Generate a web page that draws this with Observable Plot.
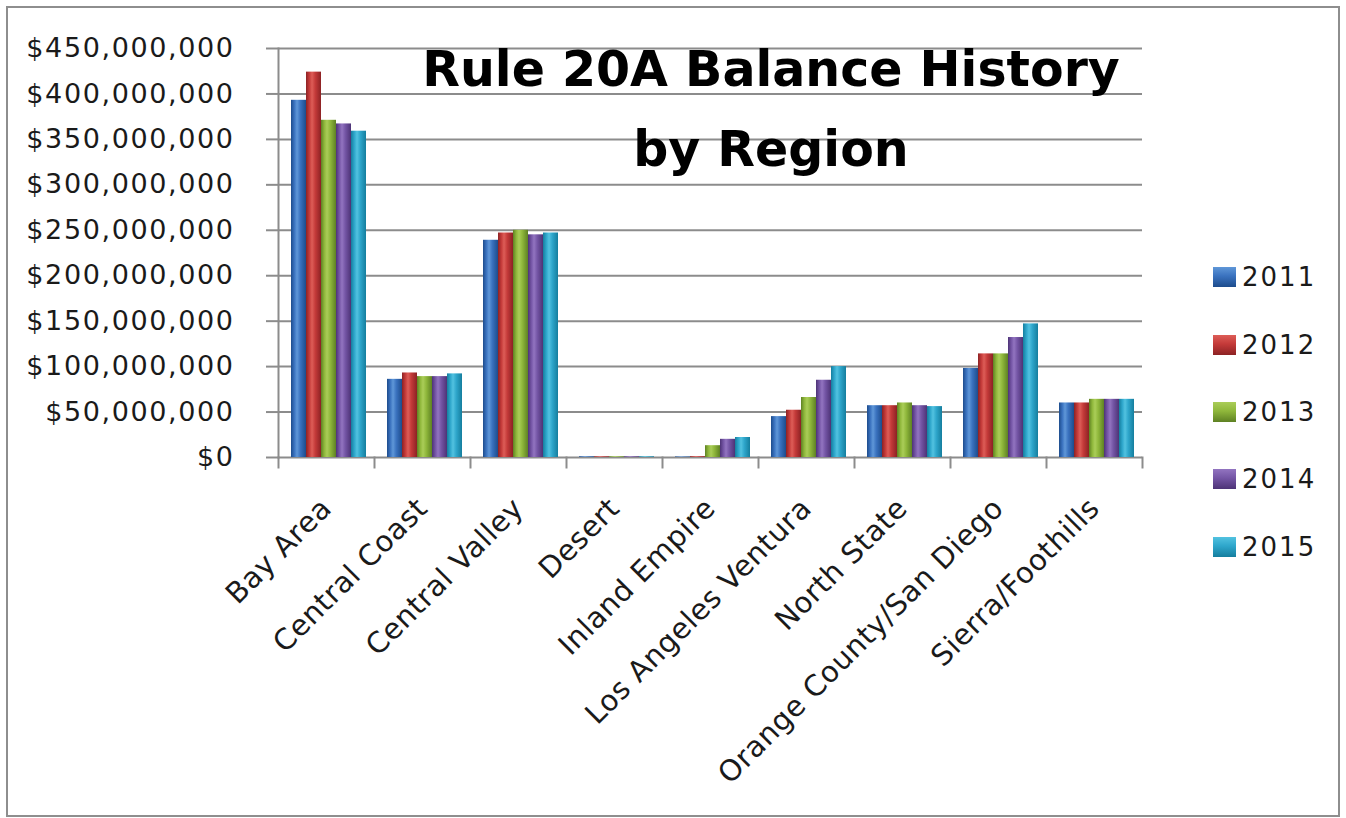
<!DOCTYPE html>
<html>
<head>
<meta charset="utf-8">
<script src="https://cdn.jsdelivr.net/npm/d3@7"></script>
<script src="https://cdn.jsdelivr.net/npm/@observablehq/plot@0.6"></script>
<style>
  html, body { margin: 0; padding: 0; background: #fff; }
  #wrap { position: relative; width: 1346px; height: 818px; overflow: hidden; font-family: "DejaVu Sans", sans-serif; }
  #border { position: absolute; left: 6px; top: 6px; width: 1330px; height: 807px; border: 2px solid #8e8e8e; pointer-events: none; }
  #title { position: absolute; left: 771px; top: 30px; transform: translateX(-50%); white-space: nowrap; text-align: center;
           font-family: "DejaVu Sans", sans-serif; font-weight: bold; font-size: 49px; line-height: 80px; color: #000; }
  #legend { position: absolute; left: 1213px; top: 0; }
  .item { position: absolute; left: 0; height: 30px; display: flex; align-items: center; white-space: nowrap; }
  .sw { width: 23px; height: 20px; margin-right: 6px; }
  .lab { font-size: 26px; color: #1a1a1a; letter-spacing: 2px; }
  #chart { position: absolute; left: 0; top: 0; }
  .yax text { letter-spacing: 1.6px; }
  .fxax text { letter-spacing: 0.5px; }
</style>
</head>
<body>
<div id="wrap">
  <div id="chart"></div>
  <div id="title">Rule 20A Balance History<br>by Region</div>
  <div id="legend"></div>
  <div id="border"></div>
</div>
<script>
// ---- data ----
const regions = ["Bay Area", "Central Coast", "Central Valley", "Desert", "Inland Empire",
                 "Los Angeles Ventura", "North State", "Orange County/San Diego", "Sierra/Foothills"];
const years = ["2011", "2012", "2013", "2014", "2015"];
const v2011 = [393e6, 86e6, 239e6, 0.8e6, 0.6e6, 45e6, 57e6, 98e6, 60e6];
const v2012 = [424e6, 93e6, 247e6, 0.8e6, 0.9e6, 52e6, 57e6, 114e6, 60e6];
const v2013 = [371e6, 89e6, 250e6, 0.8e6, 13e6, 66e6, 60e6, 114e6, 64e6];
const v2014 = [367e6, 89e6, 245e6, 0.8e6, 20e6, 85e6, 57e6, 132e6, 64e6];
const v2015 = [359e6, 92e6, 247e6, 0.8e6, 22e6, 100e6, 56e6, 147e6, 64e6];
const yTicks = [0, 50e6, 100e6, 150e6, 200e6, 250e6, 300e6, 350e6, 400e6, 450e6];

// colours: [dark edge, base, highlight]
const colors = {
  "2011": ["#1d4c8c", "#3a72bf", "#5f97d8"],
  "2012": ["#8c2224", "#c43a39", "#dd5d57"],
  "2013": ["#5e8123", "#8fb73b", "#aacd58"],
  "2014": ["#4d3376", "#7455a5", "#9274c0"],
  "2015": ["#157e9e", "#2ea6cb", "#52c2e0"]
};

const seriesValues = [v2011, v2012, v2013, v2014, v2015];
const data = [];
years.forEach((yr, i) => regions.forEach((r, j) => data.push({region: r, year: yr, value: seriesValues[i][j]})));

const fmt = d => "$" + d3.format(",")(d);
const gridColor = "#8c8c8c";

function defs() {
  const d = d3.create("svg:defs");
  years.forEach(yr => {
    const [dk, base, hi] = colors[yr];
    const g = d.append("linearGradient").attr("id", "grad" + yr).attr("x1", "0").attr("x2", "1").attr("y1", "0").attr("y2", "0");
    [[0, dk], [0.22, base], [0.4, hi], [0.62, base], [1, dk]].forEach(([o, c]) =>
      g.append("stop").attr("offset", o).attr("stop-color", c));
  });
  return d.node();
}

const chart = Plot.plot({
  width: 1346,
  height: 818,
  marginLeft: 275,
  marginRight: 201,
  marginTop: 48,
  marginBottom: 361,
  style: {fontFamily: "DejaVu Sans, sans-serif", background: "transparent", color: "#1a1a1a", overflow: "visible"},
  fx: {domain: regions, paddingInner: 0, paddingOuter: 0, label: null},
  x: {domain: years, paddingInner: 0, paddingOuter: 0.68, align: 0.6, axis: null},
  y: {domain: [0, 450e6], label: null, axis: null},
  marks: [
    defs,
    Plot.ruleY(yTicks, {stroke: gridColor, strokeWidth: 2}),
    ...years.map(yr => Plot.barY(data.filter(d => d.year === yr), {
      fx: "region", x: "year", y: "value", fill: `url(#grad${yr})`
    })),
    Plot.frame({anchor: "left", facetAnchor: "left", stroke: gridColor, strokeWidth: 2}),
    Plot.frame({anchor: "left", insetTop: 409, insetBottom: -10, stroke: gridColor, strokeWidth: 2}),
    Plot.frame({anchor: "right", facetAnchor: "right", insetTop: 409, insetBottom: -10, stroke: gridColor, strokeWidth: 2}),
    Plot.axisY(yTicks, {anchor: "left", tickFormat: fmt, tickSize: 12, tickPadding: 32, fontSize: 27,
                        stroke: gridColor, strokeWidth: 2, label: null, className: "yax"}),
    Plot.axisFx({anchor: "bottom", tickRotate: -45, tickSize: 0, tickPadding: 46, fontSize: 29, label: null, className: "fxax"})
  ]
});
document.getElementById("chart").appendChild(chart);

// legend
const legend = document.getElementById("legend");
const rowY = [277, 345, 412, 479, 547];
years.forEach((yr, i) => {
  const [dk, base, hi] = colors[yr];
  const it = document.createElement("div");
  it.className = "item";
  it.style.top = (rowY[i] - 15) + "px";
  it.innerHTML = `<div class="sw" style="background: linear-gradient(to bottom, ${hi} 0%, ${base} 45%, ${dk} 100%);"></div><span class="lab">${yr}</span>`;
  legend.appendChild(it);
});
</script>
</body>
</html>
